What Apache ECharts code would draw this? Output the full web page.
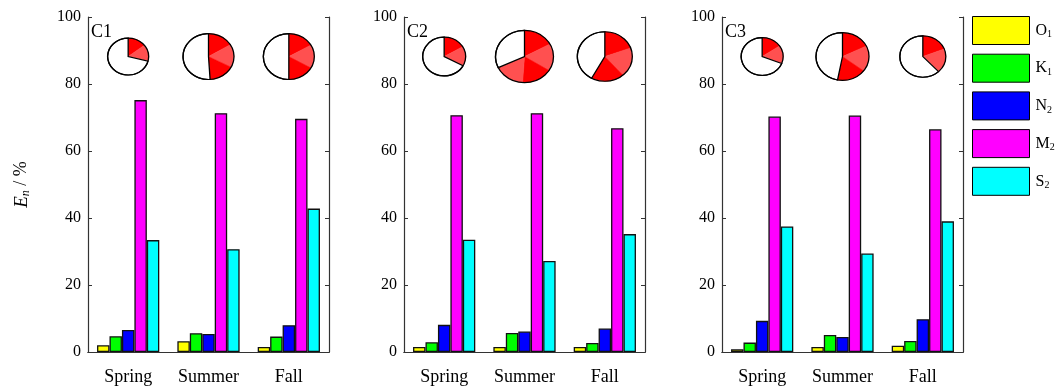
<!DOCTYPE html>
<html><head><meta charset="utf-8">
<script src="https://cdn.jsdelivr.net/npm/echarts@6/dist/echarts.min.js"></script>
<style>html,body{margin:0;padding:0;background:#fff}#c{width:1058px;height:387px}</style>
</head><body><div id="c"></div>
<script>
const categories = ['Spring', 'Summer', 'Fall'];
const constituents = ['O1', 'K1', 'N2', 'M2', 'S2'];
const panelNames = ['C1', 'C2', 'C3'];
const yTicks = [0, 20, 40, 60, 80, 100];
// values per constituent (rows O1,K1,N2,M2,S2), per season (Spring, Summer, Fall)
const c1Values = [[2.0, 3.2, 1.5], [4.7, 5.6, 4.6], [6.6, 5.4, 8.0], [75.2, 71.3, 69.6], [33.4, 30.7, 42.8]];
const c2Values = [[1.5, 1.5, 1.5], [2.9, 5.7, 2.7], [8.1, 6.1, 7.0], [70.7, 71.3, 66.8], [33.5, 27.2, 35.2]];
const c3Values = [[0.8, 1.5, 1.9], [2.8, 5.1, 3.3], [9.3, 4.5, 9.8], [70.3, 70.6, 66.5], [37.5, 29.4, 39.0]];
// pie insets: red fraction and relative size
const c1PieFrac = [0.29, 0.49, 0.50];
const c2PieFrac = [0.33, 0.68, 0.58];
const c3PieFrac = [0.31, 0.53, 0.38];
const c1PieSize = [20.5, 25.5, 25.5];
const c2PieSize = [21.5, 29, 27.5];
const c3PieSize = [21, 26.5, 23];

const panelValues = [c1Values, c2Values, c3Values];
const panelFrac = [c1PieFrac, c2PieFrac, c3PieFrac];
const panelSize = [c1PieSize, c2PieSize, c3PieSize];
const colors = ['#ffff00', '#00ff00', '#0000ff', '#ff00ff', '#00ffff'];
const FONT = '"Liberation Serif", "Times New Roman", serif';
const PIE_LEVEL = 88.2;
const AXIS_COLOR = '#333';

const gridLefts = [88, 404, 722];
const grids = gridLefts.map(l => ({left: l, width: 241, top: 17, height: 335}));

const xAxes = [], yAxes = [], series = [];
grids.forEach((g, i) => {
  xAxes.push({
    type: 'category', gridIndex: i, data: categories, position: 'bottom',
    axisLine: {lineStyle: {color: AXIS_COLOR, width: 1.2}},
    axisTick: {inside: true, length: 4, alignWithLabel: true, lineStyle: {color: AXIS_COLOR}},
    axisLabel: {fontFamily: FONT, fontSize: 18, color: '#000', margin: 16}
  });
  xAxes.push({
    type: 'category', gridIndex: i, data: categories, position: 'top',
    axisLine: {lineStyle: {color: AXIS_COLOR, width: 1.2}},
    axisTick: {inside: true, length: 4, alignWithLabel: true, lineStyle: {color: AXIS_COLOR}},
    axisLabel: {show: false}
  });
  yAxes.push({
    type: 'value', gridIndex: i, min: yTicks[0], max: yTicks[yTicks.length - 1], interval: 20, position: 'left',
    axisLine: {show: true, lineStyle: {color: AXIS_COLOR, width: 1.2}},
    axisTick: {show: true, inside: true, length: 4, lineStyle: {color: AXIS_COLOR}},
    splitLine: {show: false},
    axisLabel: {fontFamily: FONT, fontSize: 16, color: '#000', margin: 7},
    name: i === 0 ? '{i|E}{s|n}{r| / %}' : '',
    nameLocation: 'middle', nameRotate: 90, nameGap: 56,
    nameTextStyle: {
      fontFamily: FONT, fontSize: 18, color: '#000',
      rich: {
        i: {fontFamily: FONT, fontSize: 19, fontStyle: 'italic'},
        s: {fontFamily: FONT, fontSize: 12, fontStyle: 'italic', padding: [9, 0, 0, 0]},
        r: {fontFamily: FONT, fontSize: 18}
      }
    }
  });
  yAxes.push({
    type: 'value', gridIndex: i, min: 0, max: 100, interval: 20, position: 'right',
    axisLine: {show: true, lineStyle: {color: AXIS_COLOR, width: 1.2}},
    axisTick: {show: true, inside: true, length: 4, lineStyle: {color: AXIS_COLOR}},
    splitLine: {show: false}, axisLabel: {show: false}
  });
  constituents.forEach((name, k) => {
    series.push({
      type: 'bar', name: name, xAxisIndex: 2 * i, yAxisIndex: 2 * i,
      data: panelValues[i][k], barGap: '0%', barCategoryGap: '22.5%',
      itemStyle: {color: colors[k], borderColor: '#111', borderWidth: 1.3}
    });
  });
  series.push({
    type: 'custom', xAxisIndex: 2 * i, yAxisIndex: 2 * i, z: 5, clip: false,
    data: categories.map((c, j) => [j, PIE_LEVEL, panelFrac[i][j], panelSize[i][j]]),
    encode: {x: 0, y: 1},
    silent: true,
    renderItem: function (params, api) {
      const p = api.coord([api.value(0), api.value(1)]);
      const frac = api.value(2), r = api.value(3);
      const start = -Math.PI / 2;
      const redEnd = start + 2 * Math.PI * frac;
      const redDeg = frac * 360;
      const n = Math.max(2, Math.round(redDeg / 60));
      const children = [];
      for (let s = 0; s < n; s++) {
        const a0 = start + (redEnd - start) * s / n;
        const a1 = start + (redEnd - start) * (s + 1) / n;
        const col = s % 2 === 0 ? '#ff0000' : '#ff5050';
        children.push({type: 'sector', shape: {cx: 0, cy: 0, r: r, startAngle: a0, endAngle: a1 + 0.01, clockwise: true},
          style: {fill: col, stroke: col, lineWidth: 0.5}});
      }
      children.push({type: 'sector', shape: {cx: 0, cy: 0, r: r, startAngle: redEnd, endAngle: start + 2 * Math.PI, clockwise: true},
        style: {fill: '#fff', stroke: '#000', lineWidth: 1.3}});
      children.push({type: 'circle', shape: {cx: 0, cy: 0, r: r}, style: {fill: 'none', stroke: '#000', lineWidth: 1.3}});
      return {type: 'group', x: p[0], y: p[1], scaleY: 0.9, children: children};
    }
  });
});

const chart = echarts.init(document.getElementById('c'), null, {renderer: 'canvas'});
chart.setOption({
  animation: false,
  backgroundColor: '#fff',
  grid: grids,
  xAxis: xAxes,
  yAxis: yAxes,
  title: panelNames.map((t, i) => ({text: t, left: gridLefts[i] + 3, top: 23, padding: 0,
    textStyle: {fontFamily: FONT, fontSize: 18, fontWeight: 'normal', color: '#000'}})),
  legend: {
    orient: 'vertical', left: 967, top: 11, itemWidth: 57, itemHeight: 28, itemGap: 8.7,
    icon: 'rect', data: constituents,
    itemStyle: {borderColor: '#000', borderWidth: 1},
    formatter: name => '{b|' + name[0] + '}{s|' + name[1] + '}',
    textStyle: {
      fontFamily: FONT, fontSize: 16, color: '#000',
      rich: {
        b: {fontFamily: FONT, fontSize: 16, color: '#000', padding: [0, 0, 0, 1]},
        s: {fontFamily: FONT, fontSize: 10, color: '#000', padding: [8, 0, 0, 0]}
      }
    }
  },
  series: series
});
</script></body></html>
